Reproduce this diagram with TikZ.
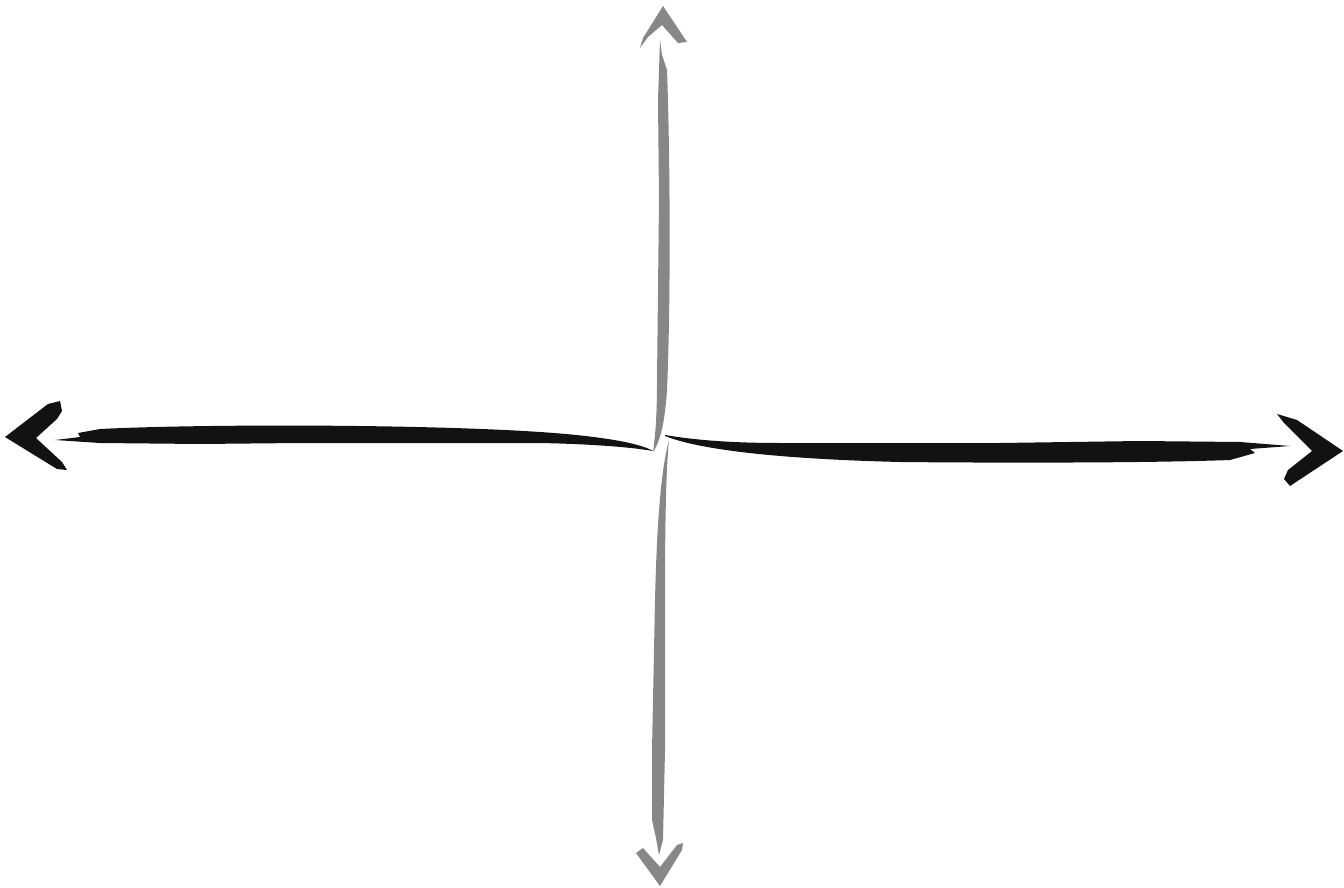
\documentclass[tikz,border=0pt]{standalone}
\begin{document}
\begin{tikzpicture}[
    x=0.02cm, y=-0.02cm,
    inkblack/.style={fill=black!93, draw=none},
    inkgray/.style={fill=black!47, draw=none},
  ]
    % canvas in pixel units, y pointing down
    \useasboundingbox (0,0) rectangle (1344,888);

    % Left brush stroke
    \fill[inkblack] (55,440) -- (80,437) -- (78,433) -- (100,429)
      .. controls (200,424) and (420,424) .. (540,432)
      .. controls (600,436) and (640,443) .. (653,451)
      .. controls (630,447) and (590,444) .. (540,443)
      -- (300,443) -- (200,444) -- (100,443) -- cycle;
    % Left arrowhead
    \fill[inkblack] (5,437) -- (48,404) -- (60,401) -- (62,411) -- (57,419)
      -- (36,438) -- (62,462) -- (67,470) -- (57,469) -- cycle;

    % Right brush stroke
    \fill[inkblack] (665,435) .. controls (700,441) and (740,443) .. (780,443)
      -- (1000,443) -- (1140,441) -- (1240,442) -- (1290,446) -- (1250,449)
      -- (1255,453) -- (1230,460)
      .. controls (1150,463) and (1000,463) .. (900,462)
      .. controls (780,459) and (700,450) .. (665,436) -- cycle;
    % Right arrowhead
    \fill[inkblack] (1343,451) -- (1290,486) -- (1284,479) -- (1288,470)
      -- (1312,451) -- (1284,423) -- (1277,414) -- (1297,420) -- cycle;

    % Upper gray stroke
    \fill[inkgray] (660,40) -- (662,55) -- (667,70)
      .. controls (670,150) and (671,300) .. (667,390)
      .. controls (665,420) and (661,440) .. (653,452)
      .. controls (656,430) and (657,410) .. (657,380)
      -- (659,200) -- (658,100) -- cycle;
    % Top arrowhead
    \fill[inkgray] (663,6) -- (687,42) -- (678,43) -- (662,25) -- (648,37)
      -- (640,48) -- (643,38) -- cycle;

    % Lower gray stroke
    \fill[inkgray] (669,440) .. controls (661,470) and (657,520) .. (655,600)
      -- (652,750) -- (652,820) -- (656,838) -- (659,855) -- (663,840)
      -- (665,750) -- (665,600)
      .. controls (665,520) and (666,470) .. (669,440) -- cycle;
    % Bottom arrowhead
    \fill[inkgray] (660,886) -- (636,853) -- (643,848) -- (660,867)
      -- (677,845) -- (683,843) -- (682,850) -- cycle;
  \end{tikzpicture}
\end{document}
